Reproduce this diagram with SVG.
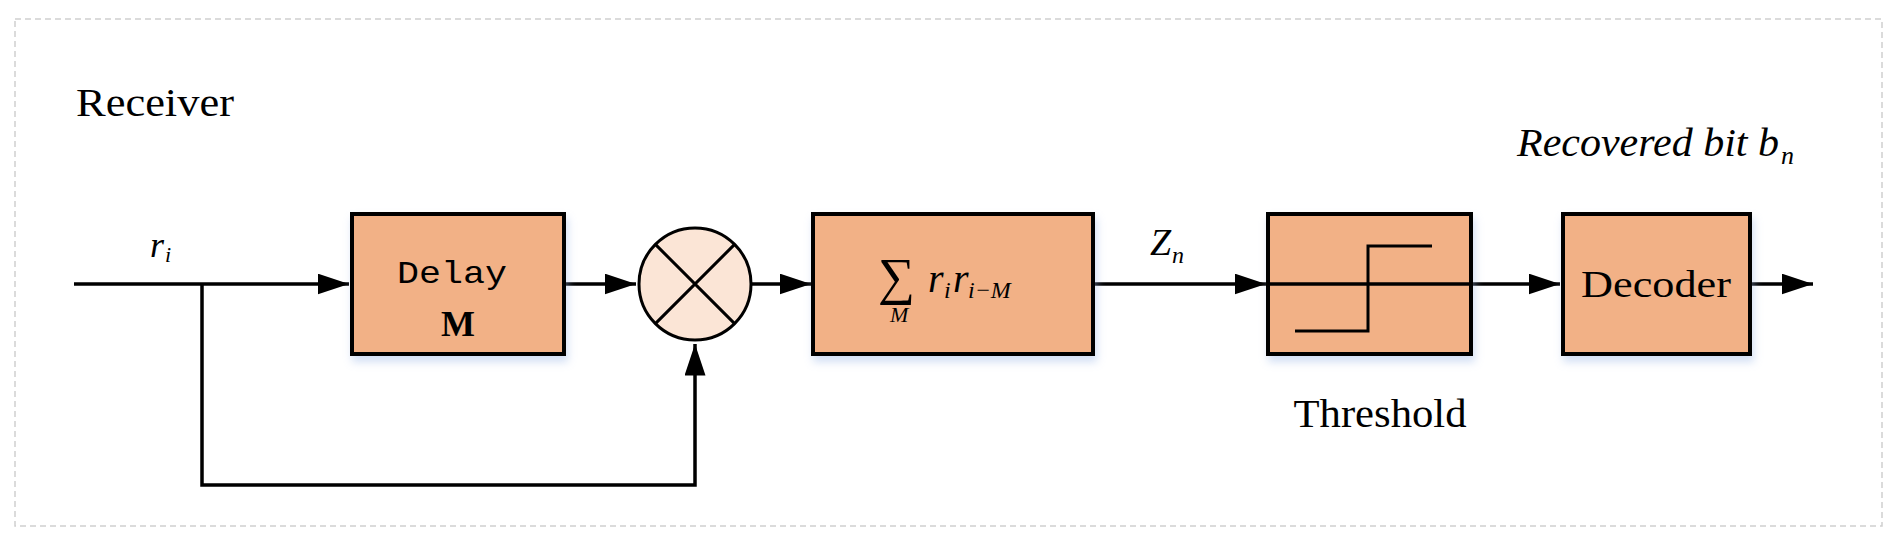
<svg xmlns="http://www.w3.org/2000/svg" width="1900" height="548" viewBox="0 0 1900 548">
<style>
.box{fill:#F2B186;stroke:#000;stroke-width:4;filter:url(#sh)}
.ln{fill:none;stroke:#000;stroke-width:3.5}
.t{font-family:"Liberation Serif",serif;fill:#000}
.i{font-style:italic}
</style>
<defs>
<marker id="ar" markerWidth="9" markerHeight="6" refX="9" refY="3" orient="auto" markerUnits="strokeWidth"><path d="M0,0L9,3L0,6z" fill="#000"/></marker>
<filter id="sh" x="-10%" y="-10%" width="120%" height="130%"><feDropShadow dx="2" dy="6" stdDeviation="4" flood-color="#9DB8E8" flood-opacity="0.45"/></filter>
</defs>
<rect x="15" y="19" width="1867" height="507" fill="none" stroke="#D0D0D0" stroke-width="1.5" stroke-dasharray="6,4"/>
<text class="t" x="76" y="116" font-size="40" textLength="158" lengthAdjust="spacingAndGlyphs">Receiver</text>
<text class="t i" x="1517" y="156" font-size="40" textLength="262" lengthAdjust="spacingAndGlyphs">Recovered bit b</text>
<text class="t i" x="1781" y="164" font-size="26">n</text>
<text class="t i" x="150" y="257" font-size="36">r</text><text class="t i" x="165" y="262" font-size="22">i</text>
<text class="t i" x="1150" y="255" font-size="38">Z</text><text class="t i" x="1172" y="263" font-size="24">n</text>
<g id="connectors">
<path class="ln" d="M74,284H349" marker-end="url(#ar)"/>
<path class="ln" d="M202,284V485H695V344" stroke-width="3" marker-end="url(#ar)"/>
<path class="ln" d="M564,284H636" marker-end="url(#ar)"/>
<path class="ln" d="M751,284H811" marker-end="url(#ar)"/>
<path class="ln" d="M1093,284H1266" marker-end="url(#ar)"/>
<path class="ln" d="M1268,284H1560" marker-end="url(#ar)"/>
<path class="ln" d="M1750,284H1813" marker-end="url(#ar)"/>
</g>
<g id="delay">
<rect class="box" x="352" y="214" width="212" height="140"/>
<text x="452" y="283" font-family="Liberation Mono,monospace" font-size="32" text-anchor="middle" textLength="110" lengthAdjust="spacingAndGlyphs">Delay</text>
<text class="t" x="458" y="336" font-size="36" font-weight="bold" text-anchor="middle">M</text>
</g>
<g id="multiplier">
<circle cx="695" cy="284" r="56" fill="#FBE5D6" stroke="#000" stroke-width="3"/>
<path d="M655.4,244.4L734.6,323.6M734.6,244.4L655.4,323.6" stroke="#000" stroke-width="3"/>
</g>
<g id="sum">
<rect class="box" x="813" y="214" width="280" height="140"/>
<text class="t" x="878" y="294" font-size="52">∑</text>
<text class="t i" x="890" y="322" font-size="22">M</text>
<text class="t i" x="928" y="292" font-size="40">r</text><text class="t i" x="944" y="298" font-size="24">i</text>
<text class="t i" x="953" y="292" font-size="40">r</text><text class="t i" x="968" y="298" font-size="24">i−M</text>
</g>
<g id="threshold">
<rect class="box" x="1268" y="214" width="203" height="140"/>
<path d="M1295,331H1368V246H1432" fill="none" stroke="#000" stroke-width="3"/>
<line x1="1268" y1="284" x2="1471" y2="284" stroke="#000" stroke-width="3.5"/>
<text class="t" x="1380" y="427" font-size="40" text-anchor="middle" textLength="173" lengthAdjust="spacingAndGlyphs">Threshold</text>
</g>
<g id="decoder">
<rect class="box" x="1563" y="214" width="187" height="140"/>
<text class="t" x="1656" y="297" font-size="38" text-anchor="middle" textLength="150" lengthAdjust="spacingAndGlyphs">Decoder</text>
</g>
</svg>
